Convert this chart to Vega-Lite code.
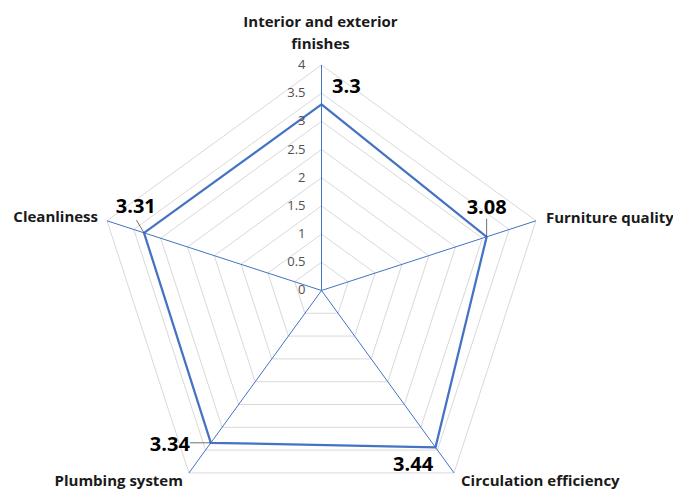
{
  "$schema": "https://vega.github.io/schema/vega-lite/v6.json",
  "width": 673,
  "height": 491,
  "padding": 0,
  "autosize": {"type": "none"},
  "config": {"view": {"stroke": null}, "font": "Open Sans"},
  "datasets": {
    "scores": [
      {"axis": "Interior and exterior finishes", "score": 3.3},
      {"axis": "Furniture quality", "score": 3.08},
      {"axis": "Circulation efficiency", "score": 3.44},
      {"axis": "Plumbing system", "score": 3.34},
      {"axis": "Cleanliness", "score": 3.31}
    ],
    "levels": [
      {"level": 0.5, "k": [0, 1, 2, 3, 4, 5]},
      {"level": 1, "k": [0, 1, 2, 3, 4, 5]},
      {"level": 1.5, "k": [0, 1, 2, 3, 4, 5]},
      {"level": 2, "k": [0, 1, 2, 3, 4, 5]},
      {"level": 2.5, "k": [0, 1, 2, 3, 4, 5]},
      {"level": 3, "k": [0, 1, 2, 3, 4, 5]},
      {"level": 3.5, "k": [0, 1, 2, 3, 4, 5]},
      {"level": 4, "k": [0, 1, 2, 3, 4, 5]}
    ],
    "ticks": [
      {"v": 0}, {"v": 0.5}, {"v": 1}, {"v": 1.5}, {"v": 2},
      {"v": 2.5}, {"v": 3}, {"v": 3.5}, {"v": 4}
    ]
  },
  "layer": [
    {
      "data": {"name": "levels"},
      "transform": [
        {"flatten": ["k"]},
        {"calculate": "(90 - 72*datum.k)*PI/180", "as": "a"},
        {"calculate": "datum.level*cos(datum.a)", "as": "gx"},
        {"calculate": "datum.level*sin(datum.a)", "as": "gy"}
      ],
      "mark": {"type": "line", "stroke": "#D9D9D9", "strokeWidth": 1},
      "encoding": {
        "x": {"field": "gx", "type": "quantitative", "scale": {"domain": [-5.703, 6.235], "nice": false, "zero": false}, "axis": null},
        "y": {"field": "gy", "type": "quantitative", "scale": {"domain": [-3.557, 5.153], "nice": false, "zero": false}, "axis": null},
        "detail": {"field": "level", "type": "nominal"},
        "order": {"field": "k", "type": "quantitative"}
      }
    },
    {
      "data": {"name": "scores"},
      "transform": [
        {"calculate": "indexof(['Interior and exterior finishes','Furniture quality','Circulation efficiency','Plumbing system','Cleanliness'], datum.axis)", "as": "i"},
        {"calculate": "(90 - 72*datum.i)*PI/180", "as": "a"},
        {"calculate": "datum.score*cos(datum.a)", "as": "px"},
        {"calculate": "datum.score*sin(datum.a)", "as": "py"},
        {"calculate": "4*cos(datum.a)", "as": "ox"},
        {"calculate": "4*sin(datum.a)", "as": "oy"},
        {"calculate": "0", "as": "cz"}
      ],
      "layer": [
        {
          "mark": {"type": "rule", "stroke": "#4472C4", "strokeWidth": 1},
          "encoding": {
            "x": {"field": "cz", "type": "quantitative"},
            "y": {"field": "cz", "type": "quantitative"},
            "x2": {"field": "ox"},
            "y2": {"field": "oy"}
          }
        },
        {
          "mark": {"type": "line", "stroke": "#4472C4", "strokeWidth": 2.25, "interpolate": "linear-closed"},
          "encoding": {
            "x": {"field": "px", "type": "quantitative"},
            "y": {"field": "py", "type": "quantitative"},
            "order": {"field": "i", "type": "quantitative"}
          }
        },
        {
          "transform": [
            {"filter": "datum.i == 0"},
            {"calculate": "replace(datum.axis, ' finishes', '\\nfinishes')", "as": "lab"}
          ],
          "mark": {"type": "text", "font": "Open Sans", "fontWeight": "bold", "fontSize": 15, "color": "#1a1a1a", "align": "center", "baseline": "middle", "lineBreak": "\n", "lineHeight": 21.6, "dx": -1, "dy": -42.5},
          "encoding": {
            "x": {"field": "ox", "type": "quantitative"},
            "y": {"field": "oy", "type": "quantitative"},
            "text": {"field": "lab", "type": "nominal"}
          }
        },
        {
          "transform": [{"filter": "datum.i == 1"}],
          "mark": {"type": "text", "font": "Open Sans", "fontWeight": "bold", "fontSize": 15, "color": "#1a1a1a", "align": "left", "baseline": "middle", "dx": 10, "dy": -3},
          "encoding": {
            "x": {"field": "ox", "type": "quantitative"},
            "y": {"field": "oy", "type": "quantitative"},
            "text": {"field": "axis", "type": "nominal"}
          }
        },
        {
          "transform": [{"filter": "datum.i == 2"}],
          "mark": {"type": "text", "font": "Open Sans", "fontWeight": "bold", "fontSize": 15, "color": "#1a1a1a", "align": "left", "baseline": "middle", "dx": 7, "dy": 8.5},
          "encoding": {
            "x": {"field": "ox", "type": "quantitative"},
            "y": {"field": "oy", "type": "quantitative"},
            "text": {"field": "axis", "type": "nominal"}
          }
        },
        {
          "transform": [{"filter": "datum.i == 3"}],
          "mark": {"type": "text", "font": "Open Sans", "fontWeight": "bold", "fontSize": 15, "color": "#1a1a1a", "align": "right", "baseline": "middle", "dx": -6, "dy": 8.5},
          "encoding": {
            "x": {"field": "ox", "type": "quantitative"},
            "y": {"field": "oy", "type": "quantitative"},
            "text": {"field": "axis", "type": "nominal"}
          }
        },
        {
          "transform": [{"filter": "datum.i == 4"}],
          "mark": {"type": "text", "font": "Open Sans", "fontWeight": "bold", "fontSize": 15, "color": "#1a1a1a", "align": "right", "baseline": "middle", "dx": -9, "dy": -3.5},
          "encoding": {
            "x": {"field": "ox", "type": "quantitative"},
            "y": {"field": "oy", "type": "quantitative"},
            "text": {"field": "axis", "type": "nominal"}
          }
        },
        {
          "transform": [{"filter": "datum.i == 0"}],
          "mark": {"type": "text", "font": "Open Sans", "fontWeight": "bold", "fontSize": 20, "color": "#000000", "align": "left", "baseline": "middle", "dx": 10.5, "dy": -17.5},
          "encoding": {
            "x": {"field": "px", "type": "quantitative"},
            "y": {"field": "py", "type": "quantitative"},
            "text": {"field": "score", "type": "nominal"}
          }
        },
        {
          "transform": [{"filter": "datum.i == 1"}, {"calculate": "datum.py + 0.32", "as": "ly"}],
          "layer": [
            {
              "mark": {"type": "rule", "stroke": "#404040", "strokeWidth": 0.75},
              "encoding": {
                "x": {"field": "px", "type": "quantitative"},
                "y": {"field": "py", "type": "quantitative"},
                "y2": {"field": "ly"}
              }
            },
            {
              "mark": {"type": "text", "font": "Open Sans", "fontWeight": "bold", "fontSize": 20, "color": "#000000", "align": "center", "baseline": "middle", "dx": 0, "dy": -28.6},
              "encoding": {
                "x": {"field": "px", "type": "quantitative"},
                "y": {"field": "py", "type": "quantitative"},
                "text": {"field": "score", "type": "nominal"}
              }
            }
          ]
        },
        {
          "transform": [{"filter": "datum.i == 2"}],
          "mark": {"type": "text", "font": "Open Sans", "fontWeight": "bold", "fontSize": 20, "color": "#000000", "align": "center", "baseline": "middle", "dx": -22.4, "dy": 18},
          "encoding": {
            "x": {"field": "px", "type": "quantitative"},
            "y": {"field": "py", "type": "quantitative"},
            "text": {"field": "score", "type": "nominal"}
          }
        },
        {
          "transform": [{"filter": "datum.i == 3"}, {"calculate": "datum.px - 0.372", "as": "lx"}],
          "layer": [
            {
              "mark": {"type": "rule", "stroke": "#404040", "strokeWidth": 0.75},
              "encoding": {
                "x": {"field": "px", "type": "quantitative"},
                "x2": {"field": "lx"},
                "y": {"field": "py", "type": "quantitative"}
              }
            },
            {
              "mark": {"type": "text", "font": "Open Sans", "fontWeight": "bold", "fontSize": 20, "color": "#000000", "align": "right", "baseline": "middle", "dx": -21, "dy": 2.4},
              "encoding": {
                "x": {"field": "px", "type": "quantitative"},
                "y": {"field": "py", "type": "quantitative"},
                "text": {"field": "score", "type": "nominal"}
              }
            }
          ]
        },
        {
          "transform": [{"filter": "datum.i == 4"}, {"calculate": "datum.px - 0.135", "as": "lx"}, {"calculate": "datum.py + 0.225", "as": "ly"}],
          "layer": [
            {
              "mark": {"type": "rule", "stroke": "#404040", "strokeWidth": 0.75},
              "encoding": {
                "x": {"field": "px", "type": "quantitative"},
                "y": {"field": "py", "type": "quantitative"},
                "x2": {"field": "lx"},
                "y2": {"field": "ly"}
              }
            },
            {
              "mark": {"type": "text", "font": "Open Sans", "fontWeight": "bold", "fontSize": 20, "color": "#000000", "align": "center", "baseline": "middle", "dx": -8.3, "dy": -26},
              "encoding": {
                "x": {"field": "px", "type": "quantitative"},
                "y": {"field": "py", "type": "quantitative"},
                "text": {"field": "score", "type": "nominal"}
              }
            }
          ]
        }
      ]
    },
    {
      "data": {"name": "ticks"},
      "mark": {"type": "text", "font": "Open Sans", "fontSize": 13, "color": "#505050", "align": "right", "baseline": "middle", "dx": -16},
      "encoding": {
        "x": {"datum": 0, "type": "quantitative"},
        "y": {"field": "v", "type": "quantitative"},
        "text": {"field": "v", "type": "quantitative"}
      }
    }
  ]
}
